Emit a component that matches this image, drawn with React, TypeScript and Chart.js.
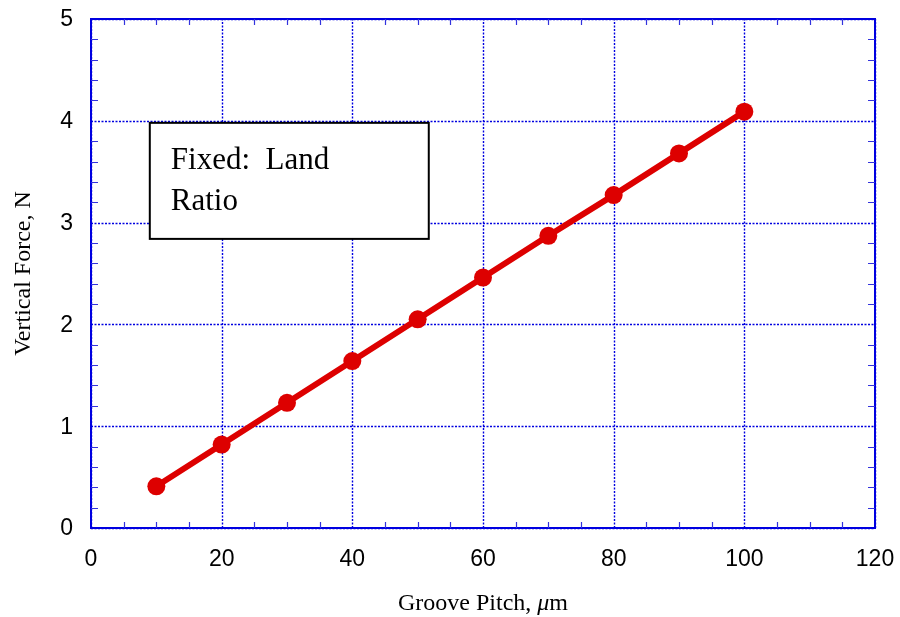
import React, { useEffect, useRef } from "react";
import { Chart, registerables } from "chart.js";

Chart.register(...registerables);

const pitch = [10, 20, 30, 40, 50, 60, 70, 80, 90, 100];
const force = [0.41, 0.82, 1.23, 1.64, 2.05, 2.46, 2.87, 3.27, 3.68, 4.09];
const xTicks = [0, 20, 40, 60, 80, 100, 120];
const yTicks = [0, 1, 2, 3, 4, 5];
const xTitle = "Groove Pitch, ";
const xTitleUnitItalic = "\u03bc";
const xTitleUnit = "m";
const yTitle = "Vertical Force, N";
const noteLines = ["Fixed:  Land", "Ratio"];
const noteBox = { x1: 9, x2: 51.7, y1: 3.98, y2: 2.84 };

const BLUE = "#0000e0";
const RED = "#dd0000";
const SERIF = "'Liberation Serif', 'Times New Roman', serif";
const SANS = "'Liberation Sans', Arial, Helvetica, sans-serif";

const gridPlugin = {
  id: "gridDots",
  beforeDatasetsDraw(chart: any) {
    const { ctx, chartArea: a, scales } = chart;
    ctx.save();
    ctx.strokeStyle = BLUE;
    ctx.lineWidth = 1.4;
    ctx.setLineDash([2, 1.5]);
    ctx.beginPath();
    xTicks.forEach((v) => {
      const px = Math.round(scales.x.getPixelForValue(v)) + 0.5;
      ctx.moveTo(px, a.bottom);
      ctx.lineTo(px, a.top);
    });
    yTicks.forEach((v) => {
      const py = Math.round(scales.y.getPixelForValue(v)) + 0.5;
      ctx.moveTo(a.left, py);
      ctx.lineTo(a.right, py);
    });
    ctx.stroke();
    ctx.restore();
  },
};

const notePlugin = {
  id: "note",
  beforeDatasetsDraw(chart: any) {
    const { ctx, scales } = chart;
    const l = scales.x.getPixelForValue(noteBox.x1);
    const r = scales.x.getPixelForValue(noteBox.x2);
    const t = scales.y.getPixelForValue(noteBox.y1);
    const b = scales.y.getPixelForValue(noteBox.y2);
    ctx.save();
    ctx.fillStyle = "#ffffff";
    ctx.fillRect(l, t, r - l, b - t);
    ctx.strokeStyle = "#000000";
    ctx.lineWidth = 2;
    ctx.strokeRect(l, t, r - l, b - t);
    ctx.fillStyle = "#000000";
    ctx.font = `31px ${SERIF}`;
    ctx.textBaseline = "alphabetic";
    ctx.textAlign = "left";
    noteLines.forEach((s, i) => ctx.fillText(s, l + 21, t + 46 + i * 41));
    ctx.restore();
  },
};

const decorPlugin = {
  id: "decor",
  afterDraw(chart: any) {
    const { ctx, chartArea: a, scales } = chart;
    const xs = scales.x;
    const ys = scales.y;
    ctx.save();
    ctx.strokeStyle = BLUE;
    ctx.lineWidth = 2;
    ctx.strokeRect(a.left, a.top, a.right - a.left, a.bottom - a.top);
    ctx.lineWidth = 1.2;
    ctx.strokeStyle = "#3333dd";
    ctx.beginPath();
    for (let v = 0; v <= 120; v += 5) {
      if (v % 20 === 0) continue;
      const px = Math.round(xs.getPixelForValue(v)) + 0.5;
      ctx.moveTo(px, a.bottom);
      ctx.lineTo(px, a.bottom - 6);
      ctx.moveTo(px, a.top);
      ctx.lineTo(px, a.top + 6);
    }
    for (let i = 0; i <= 25; i++) {
      if (i % 5 === 0) continue;
      const py = Math.round(ys.getPixelForValue(i * 0.2)) + 0.5;
      ctx.moveTo(a.left, py);
      ctx.lineTo(a.left + 7, py);
      ctx.moveTo(a.right, py);
      ctx.lineTo(a.right - 7, py);
    }
    ctx.stroke();

    // tick labels
    ctx.fillStyle = "#000000";
    ctx.font = `23px ${SANS}`;
    ctx.textBaseline = "middle";
    ctx.textAlign = "center";
    xTicks.forEach((v) => ctx.fillText(String(v), xs.getPixelForValue(v), a.bottom + 32));
    ctx.textAlign = "right";
    yTicks.forEach((v) => ctx.fillText(String(v), a.left - 18, ys.getPixelForValue(v) + 1));

    // titles
    ctx.font = `24px ${SERIF}`;
    const w1 = ctx.measureText(xTitle).width;
    ctx.font = `italic 24px ${SERIF}`;
    const w2 = ctx.measureText(xTitleUnitItalic).width;
    ctx.font = `24px ${SERIF}`;
    const w3 = ctx.measureText(xTitleUnit).width;
    const cx = (a.left + a.right) / 2;
    const x0 = cx - (w1 + w2 + w3) / 2;
    const y0 = 604;
    ctx.textAlign = "left";
    ctx.fillText(xTitle, x0, y0);
    ctx.font = `italic 24px ${SERIF}`;
    ctx.fillText(xTitleUnitItalic, x0 + w1, y0);
    ctx.font = `24px ${SERIF}`;
    ctx.fillText(xTitleUnit, x0 + w1 + w2, y0);
    ctx.translate(24, (a.top + a.bottom) / 2);
    ctx.rotate(-Math.PI / 2);
    ctx.textAlign = "center";
    ctx.fillText(yTitle, 0, 0);
    ctx.restore();
  },
};

export default function App() {
  const ref = useRef<HTMLCanvasElement | null>(null);
  useEffect(() => {
    if (!ref.current) return;
    const chart = new Chart(ref.current, {
      type: "line",
      data: {
        datasets: [
          {
            data: pitch.map((p, i) => ({ x: p, y: force[i] })),
            borderColor: RED,
            backgroundColor: RED,
            borderWidth: 6,
            pointRadius: 9,
            pointBackgroundColor: RED,
            pointBorderColor: RED,
            pointBorderWidth: 0,
            tension: 0,
          },
        ],
      },
      options: {
        responsive: false,
        animation: false,
        layout: { padding: { top: 19, right: 25, left: 0, bottom: 0 } },
        plugins: { legend: { display: false }, tooltip: { enabled: false } },
        scales: {
          x: {
            type: "linear",
            min: 0,
            max: 120,
            afterBuildTicks: (s: any) => {
              s.ticks = xTicks.map((v) => ({ value: v }));
            },
            afterFit: (s: any) => {
              s.height = 89;
            },
            ticks: { display: false },
            grid: { display: false, drawTicks: false },
            border: { display: false },
          },
          y: {
            type: "linear",
            min: 0,
            max: 5,
            afterBuildTicks: (s: any) => {
              s.ticks = yTicks.map((v) => ({ value: v }));
            },
            afterFit: (s: any) => {
              s.width = 91;
            },
            ticks: { display: false },
            grid: { display: false, drawTicks: false },
            border: { display: false },
          },
        },
      },
      plugins: [gridPlugin, notePlugin, decorPlugin],
    } as any);
    return () => chart.destroy();
  }, []);
  return (
    <div style={{ position: "fixed", left: 0, top: 0, width: 900, height: 617, background: "#fff" }}>
      <canvas ref={ref} width={900} height={617} style={{ width: 900, height: 617 }} />
    </div>
  );
}
